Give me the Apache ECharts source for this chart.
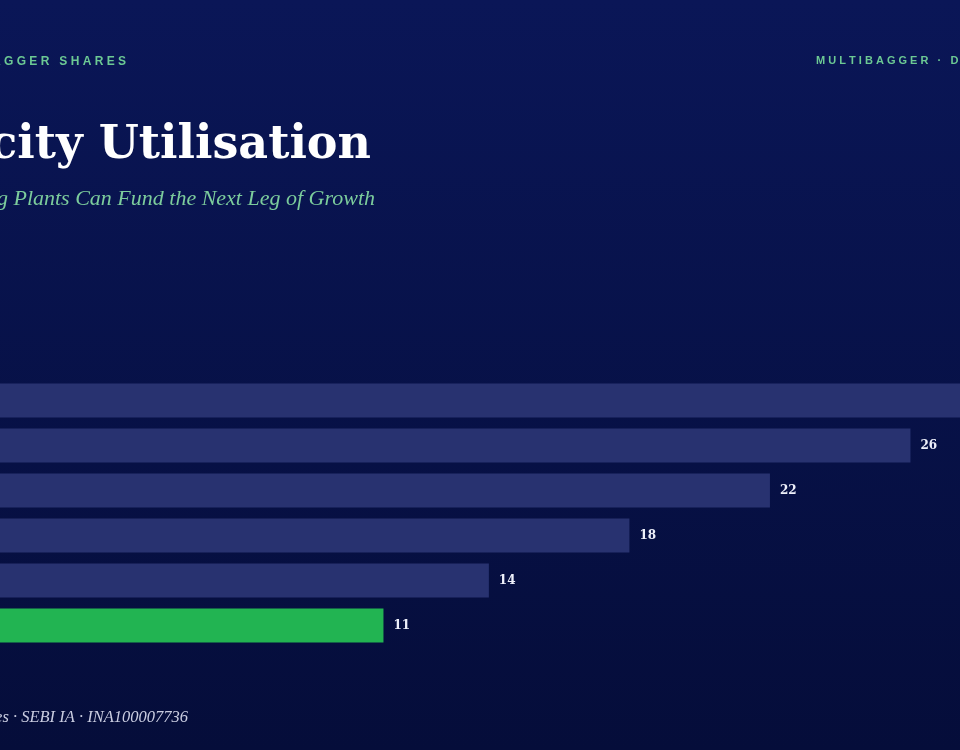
<!DOCTYPE html>
<html>
<head>
<meta charset="utf-8">
<title>Capacity Utilisation</title>
<script src="https://cdn.jsdelivr.net/npm/echarts@6/dist/echarts.min.js"></script>
<style>
  html, body { margin: 0; padding: 0; background: #070f45; }
  #main { width: 960px; height: 750px; }
</style>
</head>
<body>
<div id="main"></div>
<script>
// data (top bar runs past the right edge)
var categories = ['A', 'B', 'C', 'D', 'E', 'F'];
var values = [30, 26, 22, 18, 14, 11];
var highlight = [false, false, false, false, false, true];

var brand = 'MULTIBAGGER SHARES';
var tag = 'MULTIBAGGER · DATA';
var title = 'Capacity Utilisation';
var subtitle = 'Why Existing Plants Can Fund the Next Leg of Growth';
var footer = 'Multibagger Shares · SEBI IA · INA100007736';

// no letter-spacing in canvas text, so pad with spaces
function spaced(s) {
    return s.split('').join(' ');
}

var chart = echarts.init(document.getElementById('main'));

var option = {
    backgroundColor: {
        type: 'linear', x: 0, y: 0, x2: 0, y2: 1,
        colorStops: [
            {offset: 0, color: '#0a1657'},
            {offset: 1, color: '#050d3a'}
        ]
    },
    animation: false,
    // grid runs past the canvas on both sides, as in the cropped source
    grid: {left: -3, width: 1054, top: 378, height: 270, outerBoundsMode: 'none'},
    xAxis: {
        type: 'value',
        min: 0,
        max: 30,
        show: false
    },
    yAxis: {
        type: 'category',
        data: categories,
        inverse: true,
        show: false
    },
    series: [{
        type: 'bar',
        data: values.map(function (v, i) {
            return {
                value: v,
                itemStyle: {color: highlight[i] ? '#22b452' : '#283270'}
            };
        }),
        barCategoryGap: '24%',
        label: {
            show: true,
            position: 'right',
            distance: 10,
            color: '#eef0fa',
            fontFamily: 'DejaVu Serif',
            fontWeight: 'bold',
            fontSize: 12
        }
    }],
    graphic: [
        {
            type: 'text', right: 834, top: 56,
            style: {
                text: spaced(brand), fill: '#6cc994',
                font: 'bold 12px "Liberation Sans", sans-serif', textAlign: 'right'
            }
        },
        {
            type: 'text', left: 816, top: 55,
            style: {
                text: spaced(tag), fill: '#6cc994',
                font: 'bold 11px "Liberation Sans", sans-serif'
            }
        },
        {
            type: 'text', right: 589, top: 123,
            style: {
                text: title, fill: '#ffffff',
                font: 'bold 46px "DejaVu Serif", serif', textAlign: 'right'
            }
        },
        {
            type: 'text', right: 585, top: 188,
            style: {
                text: subtitle, fill: '#7ccc9c',
                font: 'italic 22px "Liberation Serif", serif', textAlign: 'right'
            }
        },
        {
            type: 'text', right: 772, top: 709,
            style: {
                text: footer, fill: '#c9cce0',
                font: 'italic 16.5px "Liberation Serif", serif', textAlign: 'right'
            }
        }
    ]
};

chart.setOption(option);
</script>
</body>
</html>
